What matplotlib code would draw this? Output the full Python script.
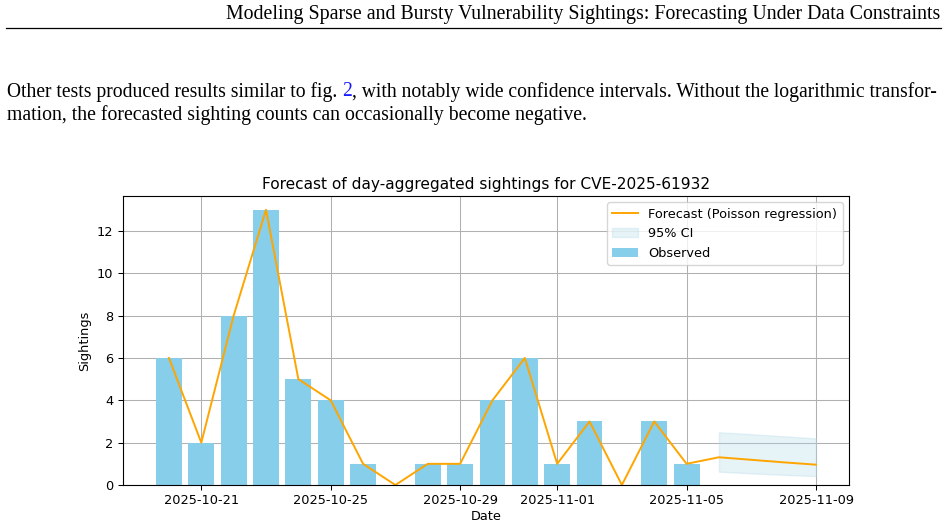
import matplotlib
matplotlib.use("Agg")
import matplotlib.pyplot as plt
import matplotlib.dates as mdates
import numpy as np
import pandas as pd

# ---- data ----
obs_dates = pd.date_range("2025-10-20", "2025-11-05", freq="D")
observed = [6, 2, 8, 13, 5, 4, 1, 0, 1, 1, 4, 6, 1, 3, 0, 3, 1]
fitted = [6, 2, 8, 13, 5, 4, 1, 0, 1, 1, 4, 6, 1, 3, 0, 3, 1]
fc_dates = pd.date_range("2025-11-06", "2025-11-09", freq="D")
forecast = [1.31, 1.19, 1.07, 0.96]
ci_lower = [0.63, 0.55, 0.48, 0.42]
ci_upper = [2.49, 2.40, 2.30, 2.20]
xtick_labels = ["2025-10-21", "2025-10-25", "2025-10-29", "2025-11-01", "2025-11-05", "2025-11-09"]

header = "Modeling Sparse and Bursty Vulnerability Sightings: Forecasting Under Data Constraints"
para1_parts = ["Other tests produced results similar to fig. ", "2",
               ", with notably wide confidence intervals. Without the logarithmic transfor-"]
para2 = "mation, the forecasted sighting counts can occasionally become negative."
title = "Forecast of day-aggregated sightings for CVE-2025-61932"

W, H = 948, 529
fig = plt.figure(figsize=(W / 100, H / 100), dpi=100)
fig.patch.set_facecolor("white")

serif = ["Liberation Serif", "DejaVu Serif"]

# header
fig.text(940 / W, 1 - 19 / H, header, ha="right", va="baseline",
         fontsize=14.3, family=serif, color="black")
fig.add_artist(plt.Line2D([6 / W, 941 / W], [1 - 28 / H, 1 - 28 / H],
                          color="black", lw=0.9))

# paragraph
fig.canvas.draw()
renderer = fig.canvas.get_renderer()
fs = 14.2
left_px, right_px = 7, 941
y1 = 1 - 96.5 / H
colors = ["black", "#1a1aff", "black"]


def place_line(size):
    arts = []
    x = left_px
    for part, c in zip(para1_parts, colors):
        t = fig.text(x / W, y1, part, ha="left", va="baseline", fontsize=size,
                     family=serif, color=c)
        x += t.get_window_extent(renderer).width
        arts.append(t)
    return arts, x


arts, xend = place_line(fs)
fs1 = fs * (right_px - left_px) / (xend - left_px)
for a in arts:
    a.remove()
place_line(fs1)
fig.text(7 / W, 1 - 120 / H, para2, ha="left", va="baseline", fontsize=fs, family=serif)

# chart
ax = fig.add_axes([123 / W, 44 / H, 726 / W, 289 / H])
bars = ax.bar(obs_dates, observed, width=0.8, color="skyblue", label="Observed")
line_dates = list(obs_dates) + list(fc_dates)
line_vals = list(fitted) + list(forecast)
ln, = ax.plot(line_dates, line_vals, color="orange", lw=1.4,
              label="Forecast (Poisson regression)")
ci = ax.fill_between(fc_dates, ci_lower, ci_upper, color="lightblue", alpha=0.3,
                     label="95% CI")
ax.set_xticks(pd.to_datetime(xtick_labels))
ax.xaxis.set_major_formatter(mdates.DateFormatter("%Y-%m-%d"))
ax.set_ylim(0, 13.65)
ax.set_yticks([0, 2, 4, 6, 8, 10, 12])
ax.grid(True, color="#b0b0b0", lw=0.75)
ax.set_axisbelow(True)
ax.tick_params(labelsize=9.25, length=3.3, width=0.75)
for s in ax.spines.values():
    s.set_linewidth(0.8)
ax.set_title(title, fontsize=11.1, pad=5)
ax.set_xlabel("Date", fontsize=9.25, labelpad=2)
ax.set_ylabel("Sightings", fontsize=9.25, labelpad=4)
ax.legend(handles=[ln, ci, bars], loc="upper right", fontsize=9.3,
          framealpha=0.8, borderpad=0.4)

fig.savefig("out.png", dpi=100)
